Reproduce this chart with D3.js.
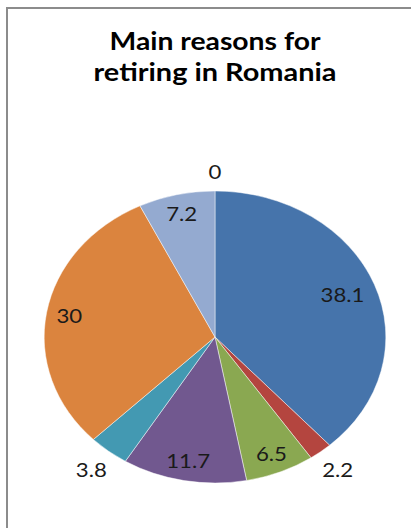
<!DOCTYPE html>
<html>
<head>
<meta charset="utf-8">
<script src="https://cdn.jsdelivr.net/npm/d3@7/dist/d3.min.js"></script>
<style>
  html, body { margin: 0; padding: 0; background: #fff; }
  svg { display: block; }
</style>
</head>
<body>
<svg id="chart" width="411" height="528"></svg>
<script>
// Chart content
const titleLines = ["Main reasons for", "retiring in Romania"];
const reasons = ["A", "B", "C", "D", "E", "F", "G", "H"];
const shares = [38.1, 2.2, 6.5, 11.7, 3.8, 30, 7.2, 0];
const sliceColors = ["#4674ab", "#b4453f", "#8aa851", "#71588f", "#4399b2", "#db843e", "#94aad0", "#a6a6a6"];

const W = 411, H = 528;
const svg = d3.select("#chart");

// Frame (left and top edges of the chart area)
svg.append("path")
  .attr("d", `M7,${H} L7,8 L${W},8`)
  .attr("fill", "none")
  .attr("stroke", "#8c8c8c")
  .attr("stroke-width", 2);

// Title
const titleWidths = [211, 243];
svg.append("g").selectAll("text")
  .data(titleLines)
  .join("text")
  .attr("x", 215)
  .attr("y", (d, i) => 50 + i * 31)
  .attr("text-anchor", "middle")
  .attr("font-family", "Lato, 'Open Sans', sans-serif")
  .attr("font-weight", "bold")
  .attr("font-size", 24)
  .attr("fill", "#000")
  .attr("textLength", (d, i) => titleWidths[i])
  .attr("lengthAdjust", "spacingAndGlyphs")
  .text(d => d);

// Pie (plot area is wider than tall, so the circle is stretched horizontally)
const cx = 215, cy = 337, r = 146, sx = 1.17;
const data = reasons.map((k, i) => ({ key: k, value: shares[i], color: sliceColors[i] }));

const pie = d3.pie().value(d => d.value).sort(null);
const arcs = pie(data);
const arc = d3.arc().innerRadius(0).outerRadius(r);

const g = svg.append("g").attr("transform", `translate(${cx},${cy}) scale(${sx},1)`);

g.selectAll("path.slice")
  .data(arcs.filter(a => a.value > 0))
  .join("path")
  .attr("class", "slice")
  .attr("d", arc)
  .attr("fill", d => d.data.color)
  .attr("stroke", "rgba(255,255,255,0.55)")
  .attr("stroke-width", 0.8);

// Data labels: inside for large slices, just outside for small ones
const fontSize = 19;
const labelFor = a => {
  const mid = (a.startAngle + a.endAngle) / 2;
  const sin = Math.sin(mid), cos = -Math.cos(mid);
  let rr;
  if (a.value >= 5) {
    rr = a.value > 35 ? r * 0.8 : r * 0.865;
  } else {
    const txt = String(a.data.value);
    const halfW = txt.length * fontSize * 0.29 / 2 + 2;
    const halfH = fontSize * 0.42;
    rr = r + 11 + Math.abs(sin) * halfW + Math.abs(cos) * halfH;
  }
  return [sin * rr, cos * rr];
};

g.selectAll("text.lbl")
  .data(arcs)
  .join("text")
  .attr("class", "lbl")
  .attr("transform", d => {
    const [x, y] = labelFor(d);
    return `translate(${x},${y})`;
  })
  .attr("text-anchor", "middle")
  .attr("dy", "0.36em")
  .attr("font-family", "Lato, 'Open Sans', sans-serif")
  .attr("font-size", fontSize)
  .attr("fill", "#1a1a1a")
  .text(d => d.data.value);
</script>
</body>
</html>
